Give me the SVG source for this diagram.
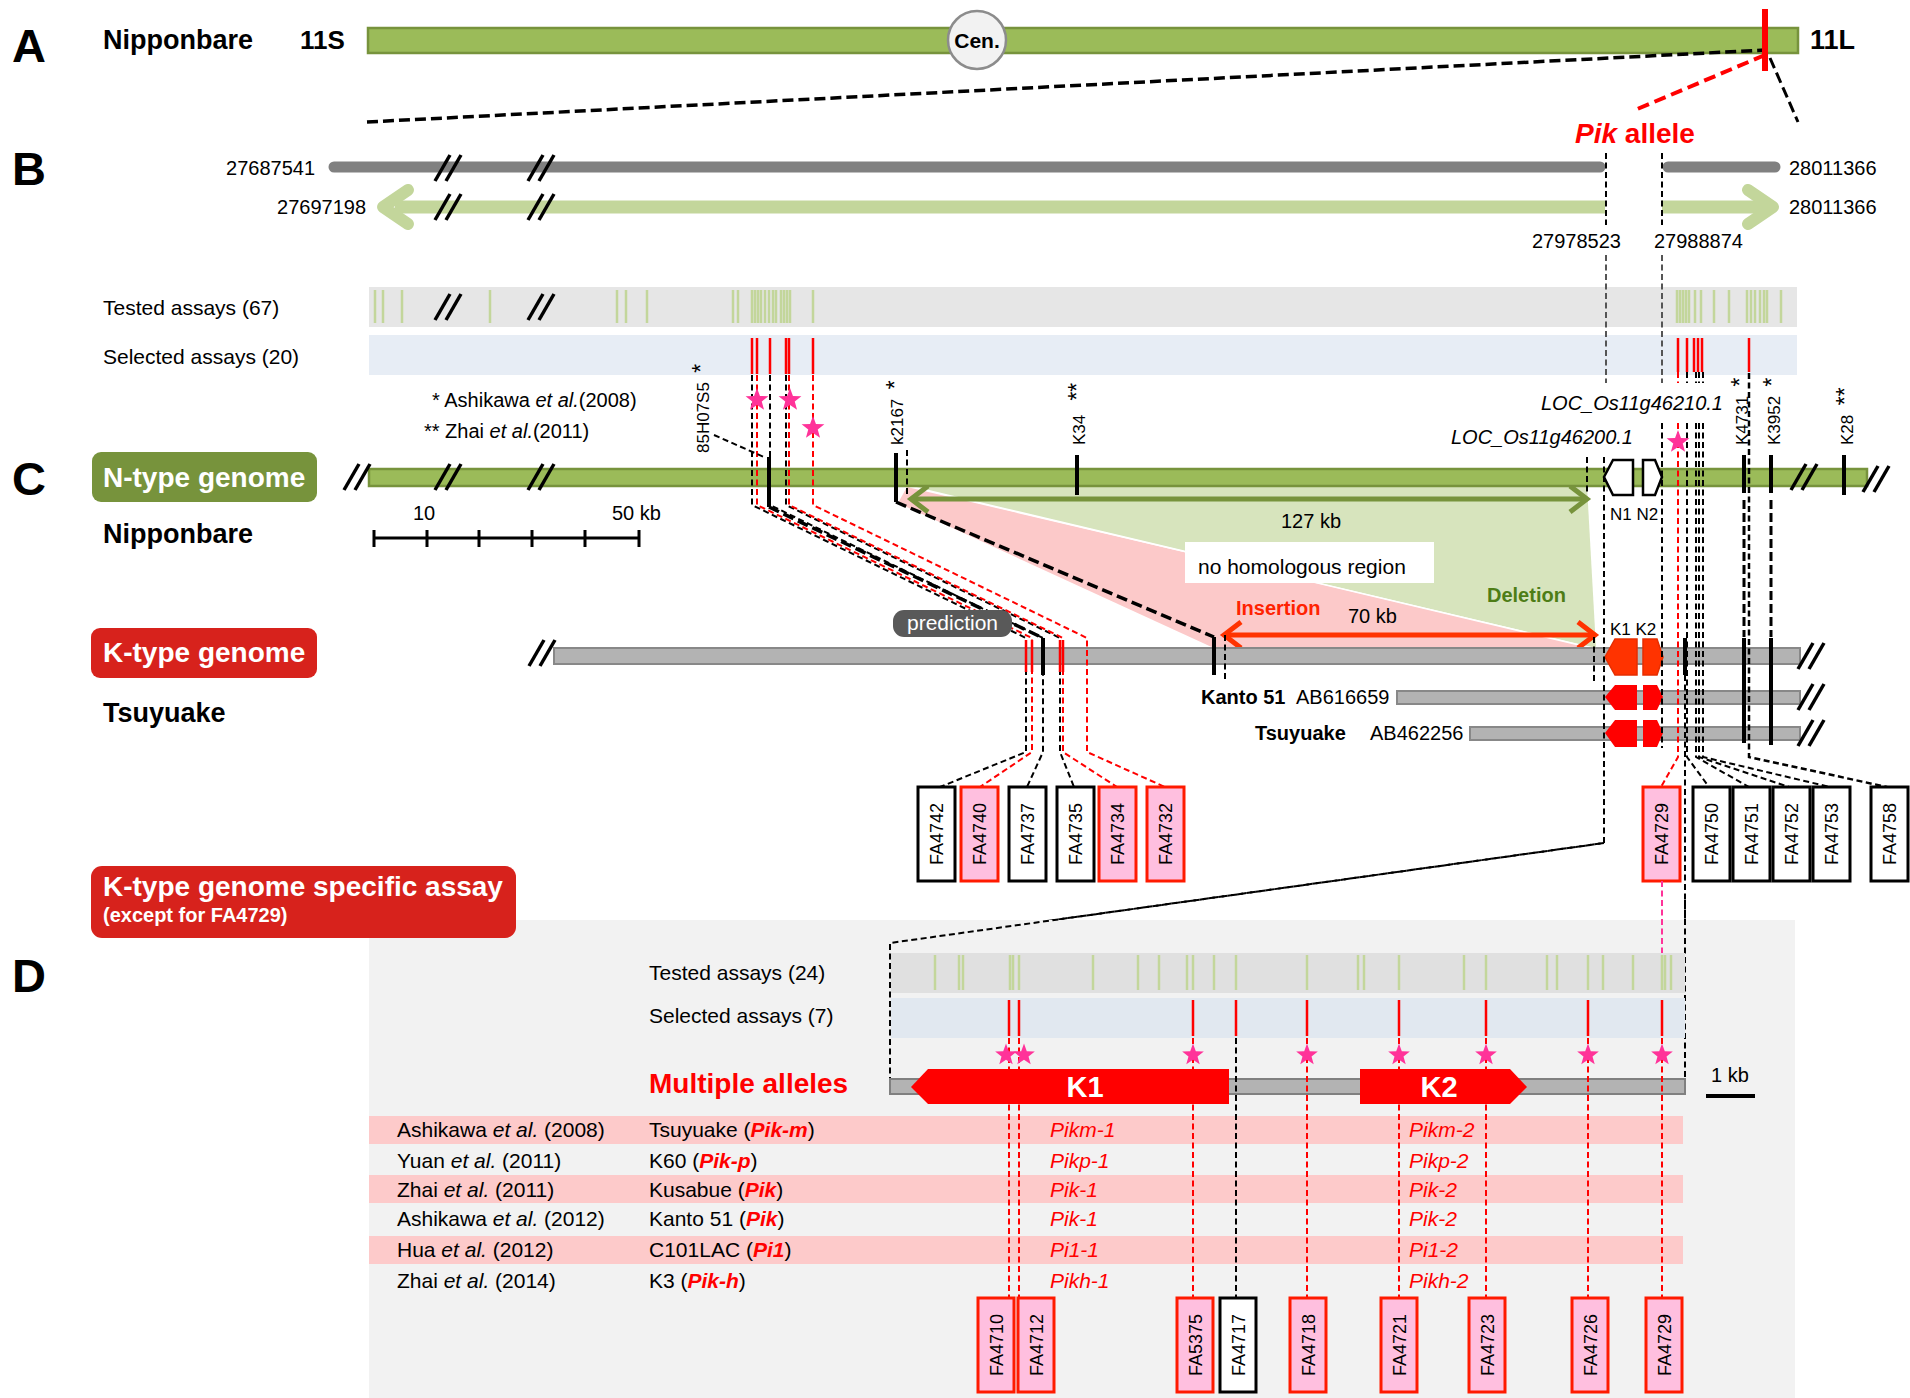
<svg xmlns="http://www.w3.org/2000/svg" width="1910" height="1398" viewBox="0 0 1910 1398">
<defs>
<style>
text{font-family:"Liberation Sans",Arial,Helvetica,sans-serif;fill:#000}
.b{font-weight:bold}
.i{font-style:italic}
.f21{font-size:21px}
.f20{font-size:20px}
.f17{font-size:17px}
.ast{font-size:23px}
.big{font-size:47px;font-weight:bold}
.wt{fill:#fff}
.rt{fill:#ff0000}
.dk{stroke:#000;stroke-width:2;stroke-dasharray:6 3.5;fill:none}
.dg{stroke:#555;stroke-width:2;stroke-dasharray:6 3.5;fill:none}
.dkb{stroke:#000;stroke-width:3.5;stroke-dasharray:11 5;fill:none}
.dr{stroke:#ff0000;stroke-width:2;stroke-dasharray:6 3.5;fill:none}
.sr{stroke:#ff0000;stroke-width:2.5}
.sk{stroke:#000;stroke-width:4}
.tk{stroke:#c3d69b;stroke-width:2.5;fill:none}
.brk{stroke:#000;stroke-width:3.5}
.wbox{fill:#fff;stroke:#000;stroke-width:3}
.pbox{fill:#ffbfdf;stroke:#ff1a00;stroke-width:3}
.bt{font-size:18px}
.kbar{fill:#b3b3b3;stroke:#888;stroke-width:2}
.gbar{fill:#9bbb59;stroke:#77933c;stroke-width:2.5}
.star{fill:#ff3399}
</style>
<g id="brk"><line class="brk" x1="-13" y1="13" x2="2" y2="-13"/><line class="brk" x1="-2" y1="13" x2="13" y2="-13"/></g>
<polygon id="star" points="0,-12 2.94,-4.05 11.41,-3.71 4.76,1.55 7.05,9.71 0,5 -7.05,9.71 -4.76,1.55 -11.41,-3.71 -2.94,-4.05"/>
</defs>
<rect width="1910" height="1398" fill="#fff"/>

<!-- Panel A -->
<g id="panelA">
<text class="big" x="12" y="62">A</text>
<text class="b" font-size="27" x="103" y="49">Nipponbare</text>
<text class="b" font-size="26" x="300" y="49">11S</text>
<rect class="gbar" x="368" y="28" width="1430" height="25"/>
<g id="cen"><circle cx="977" cy="40" r="29" fill="#f2f2f2" stroke="#8c8c8c" stroke-width="2.5"/>
<text class="b" font-size="21" x="977" y="48" text-anchor="middle">Cen.</text></g>
<text class="b" font-size="27" x="1810" y="49">11L</text>
</g>

<!-- Panel B -->
<g id="panelB">
<text class="big" x="12" y="185">B</text>
<text class="f20" x="315" y="175" text-anchor="end">27687541</text>
<line x1="334" y1="167" x2="1600" y2="167" stroke="#808080" stroke-width="11" stroke-linecap="round"/>
<line x1="1668" y1="167" x2="1775" y2="167" stroke="#808080" stroke-width="11" stroke-linecap="round"/>
<text class="f20" x="1789" y="175">28011366</text>
<line x1="395" y1="207" x2="1605" y2="207" stroke="#c3d69b" stroke-width="13"/>
<polyline points="408,190 383,207 408,224" fill="none" stroke="#c3d69b" stroke-width="12" stroke-linecap="round" stroke-linejoin="round"/>
<line x1="1662" y1="207" x2="1765" y2="207" stroke="#c3d69b" stroke-width="13"/>
<polyline points="1748,190 1773,207 1748,224" fill="none" stroke="#c3d69b" stroke-width="12" stroke-linecap="round" stroke-linejoin="round"/>
<text class="f20" x="366" y="214" text-anchor="end">27697198</text>
<text class="f20" x="1789" y="214">28011366</text>
<text class="f20" x="1532" y="248">27978523</text>
<text class="f20" x="1654" y="248">27988874</text>
<use href="#brk" x="448" y="168"/><use href="#brk" x="541" y="168"/>
<use href="#brk" x="448" y="207"/><use href="#brk" x="541" y="207"/>
</g>

<!-- Assay panels C -->
<g id="assaysC">
<rect x="369" y="287" width="1428" height="40" fill="#e6e6e6"/>
<rect x="369" y="335" width="1428" height="40" fill="#e7edf5"/>
<text class="f21" x="103" y="315">Tested assays (67)</text>
<text class="f21" x="103" y="364">Selected assays (20)</text>
<path class="tk" d="M375 290V323M383 290V323M402 290V323M490 290V323M617 290V323M626 290V323M647 290V323M733 290V323M738 290V323M752 290V323M755 290V323M758 290V323M761 290V323M765 290V323M769 290V323M773 290V323M776 290V323M781 290V323M784 290V323M787 290V323M790 290V323M813 290V323M1677 290V323M1680 290V323M1683 290V323M1686 290V323M1689 290V323M1695 290V323M1701 290V323M1714 290V323M1729 290V323M1747 290V323M1751 290V323M1755 290V323M1760 290V323M1764 290V323M1767 290V323M1781 290V323"/>
<use href="#brk" x="448" y="307"/><use href="#brk" x="541" y="307"/>
<path class="sr" d="M752 338V374M757 338V374M770 338V374M786 338V374M789 338V374M813 338V374M1678 338V372M1687 338V372M1694 338V372M1698 338V372M1702 338V372M1749 338V372"/>
</g>

<!-- Panel C labels -->
<g id="panelC-labels">
<text class="big" x="12" y="495">C</text>
<g id="ntype-label"><rect x="92" y="452" width="225" height="50" rx="9" fill="#77933c"/>
<text class="b wt" font-size="28" x="103" y="487">N-type genome</text></g>
<text class="b" font-size="27" x="103" y="543">Nipponbare</text>
<g id="ktype-label"><rect x="91" y="628" width="226" height="50" rx="9" fill="#d7221c"/>
<text class="b wt" font-size="28" x="103" y="662">K-type genome</text></g>
<text class="b" font-size="27" x="103" y="722">Tsuyuake</text>
<g id="scalebar"><path d="M374 538H639M374 530V547M427 530V547M479 530V547M532 530V547M585 530V547M639 530V547" stroke="#000" stroke-width="3" fill="none"/>
<text class="f20" x="413" y="520">10</text><text class="f20" x="612" y="520">50 kb</text></g>
<text class="f20" x="432" y="407">* Ashikawa <tspan class="i">et al.</tspan>(2008)</text>
<text class="f20" x="424" y="438">** Zhai <tspan class="i">et al.</tspan>(2011)</text>
<text class="f17" transform="rotate(-90 709 453)" x="709" y="453">85H07S5&#160; <tspan class="ast">*</tspan></text>
<text class="f17" transform="rotate(-90 903 445)" x="903" y="445">k2167&#160; <tspan class="ast">*</tspan></text>
<text class="f17" transform="rotate(-90 1085 445)" x="1085" y="445">K34&#160;&#160; <tspan class="ast">**</tspan></text>
<text class="f17" transform="rotate(-90 1748 445)" x="1748" y="445">K4731&#160; <tspan class="ast">*</tspan></text>
<text class="f17" transform="rotate(-90 1780 445)" x="1780" y="445">K3952&#160; <tspan class="ast">*</tspan></text>
<text class="f17" transform="rotate(-90 1853 445)" x="1853" y="445">K28&#160; <tspan class="ast">**</tspan></text>
<text class="f20 i" x="1541" y="410">LOC_Os11g46210.1</text>
<text class="f20 i" x="1451" y="444">LOC_Os11g46200.1</text>
</g>

<!-- Regions -->
<g id="regions">
<polygon points="909,486 1587,486 1596,648" fill="#d7e4bd"/>
<polygon points="907,487 1596,649 1216,649 898,503" fill="#fcc9c9"/>
<line x1="909" y1="486" x2="1596" y2="649" stroke="#fff" stroke-width="1.5"/>
<g id="nohom"><rect x="1185" y="542" width="249" height="41" fill="#fff"/>
<text class="f21" x="1198" y="574">no homologous region</text></g>
<text class="b f20" x="1487" y="602" style="fill:#4e7d16">Deletion</text>
<text class="b f20" x="1236" y="615" style="fill:#ff2200">Insertion</text>
<text class="f20" x="1348" y="623">70 kb</text>
<text class="f20" x="1281" y="528">127 kb</text>
<g id="arrow127" stroke="#77933c" stroke-width="5" fill="none">
<line x1="912" y1="499" x2="1584" y2="499"/>
<polyline points="928,486 911,499 928,512"/><polyline points="1570,486 1587,499 1570,512"/></g>
<g id="arrow70" stroke="#ff3300" stroke-width="5" fill="none">
<line x1="1225" y1="635" x2="1593" y2="635"/>
<polyline points="1241,622 1224,635 1241,648"/><polyline points="1578,622 1595,635 1578,648"/></g>
</g>

<!-- Genome bars -->
<g id="ntype-bar">
<rect class="gbar" x="369" y="469" width="1498" height="17"/>
<use href="#brk" x="357" y="477"/><use href="#brk" x="448" y="477"/><use href="#brk" x="541" y="477"/>
<use href="#brk" x="1804" y="477"/><use href="#brk" x="1876" y="479"/>
<polygon points="1604,477 1613,460 1633,460 1633,495 1613,495" fill="#fff" stroke="#000" stroke-width="2.5"/>
<polygon points="1643,460 1655,460 1662,477 1655,495 1643,495" fill="#fff" stroke="#000" stroke-width="2.5"/>
<text class="f17" x="1610" y="520">N1 N2</text>
</g>
<g id="ktype-bar">
<rect class="kbar" x="554" y="648" width="1246" height="16"/>
<use href="#brk" x="542" y="653"/><use href="#brk" x="1811" y="656"/>
<polygon points="1605,657 1615,639 1637,639 1637,675 1615,675" fill="#ff3300" stroke="#e62e00" stroke-width="1.5"/>
<polygon points="1643,639 1657,639 1663,657 1657,675 1643,675" fill="#ff3300" stroke="#e62e00" stroke-width="1.5"/>
<text class="f17" x="1610" y="635">K1 K2</text>
</g>
<g id="kanto51-bar">
<rect class="kbar" x="1397" y="691" width="403" height="13"/>
<use href="#brk" x="1811" y="697"/>
<polygon points="1605,697 1615,685 1637,685 1637,710 1615,710" fill="#ff0000"/>
<polygon points="1643,685 1657,685 1663,697 1657,710 1643,710" fill="#ff0000"/>
<text class="b f20" x="1201" y="704">Kanto 51</text><text class="f20" x="1296" y="704">AB616659</text>
</g>
<g id="tsuyuake-bar">
<rect class="kbar" x="1470" y="727" width="330" height="13"/>
<use href="#brk" x="1811" y="733"/>
<polygon points="1605,733 1615,720 1637,720 1637,747 1615,747" fill="#ff0000"/>
<polygon points="1643,720 1657,720 1663,733 1657,747 1643,747" fill="#ff0000"/>
<text class="b f20" x="1255" y="740">Tsuyuake</text><text class="f20" x="1370" y="740">AB462256</text>
</g>

<!-- Connectors -->
<g id="connectors">
<line class="dkb" x1="367" y1="122" x2="1765" y2="50"/>
<line class="dkb" x1="1770" y1="58" x2="1798" y2="122" style="stroke-width:3"/>
<line x1="1765" y1="55" x2="1635" y2="110" stroke="#ff0000" stroke-width="4" stroke-dasharray="12 6"/>
<line x1="1765" y1="9" x2="1765" y2="71" stroke="#ff0000" stroke-width="6"/>
<path class="dk" d="M1606 153V225M1662 153V225"/>
<path class="dg" d="M1606 255V383M1662 255V383"/>
<polyline class="dk" points="1604,457 1604,843 890,943 890,1087"/>
<path class="dk" d="M1662 423V748M1587 457V493M1594 637V682M907 450V495M1225 635V680"/>
<line class="sk" x1="1685" y1="638" x2="1685" y2="675"/>
<line class="dk" x1="1685" y1="675" x2="1685" y2="1093"/>
<polyline class="dk" points="752,375 752,505 1026,638 1026,752 940,787"/>
<polyline class="dr" points="757,375 757,505 1032,638 1032,752 980,787"/>
<polyline class="dk" points="770,375 770,505 1043,638 1043,752 1027,787"/>
<polyline class="dk" points="786,375 786,505 1060,638 1060,752 1074,787"/>
<polyline class="dr" points="789,375 789,505 1063,638 1063,752 1117,787"/>
<polyline class="dr" points="813,375 813,505 1087,638 1087,752 1165,787"/>
<line class="dk" x1="714" y1="435" x2="764" y2="457"/>
<line class="sk" x1="769" y1="457" x2="769" y2="507"/>
<line class="dkb" x1="769" y1="507" x2="1043" y2="638"/>
<line class="sk" x1="1043" y1="638" x2="1043" y2="675"/>
<path class="sr" d="M1026 640V672M1032 640V672M1060 640V672M1063 640V672"/>
<line class="sk" x1="896" y1="453" x2="896" y2="502"/>
<line class="dkb" x1="896" y1="502" x2="1214" y2="637"/>
<line class="sk" x1="1214" y1="637" x2="1214" y2="675"/>
<path class="sk" d="M1077 455V495M1844 455V495M1744 455V493M1771 455V493M1744 638V743M1771 638V745"/>
<path class="dkb" d="M1744 500V637M1771 500V637" style="stroke-width:3;stroke-dasharray:9 4"/>
<path class="dr" d="M1678 372V383"/>
<polyline class="dr" points="1678,423 1678,757 1661,787"/>
<path class="dk" d="M1687 372V383M1696 372V383M1699 372V383M1703 372V383"/>
<polyline class="dk" points="1687,423 1687,757 1709,787"/>
<polyline class="dk" points="1696,423 1696,757 1749,787"/>
<polyline class="dk" points="1699,423 1699,757 1789,787"/>
<polyline class="dk" points="1703,423 1703,757 1830,787"/>
<polyline class="dk" points="1749,373 1749,757 1887,787" style="stroke-width:2.5"/>
<use href="#star" class="star" x="757" y="400"/>
<use href="#star" class="star" x="790" y="400"/>
<use href="#star" class="star" x="813" y="428"/>
<use href="#star" class="star" x="1678" y="442"/>
</g>
<g id="prediction"><rect x="893" y="610" width="119" height="27" rx="11" fill="#595959"/>
<text class="f21 wt" x="952.5" y="630" text-anchor="middle">prediction</text></g>

<!-- C boxes -->
<g id="fa4742"><rect class="wbox" x="918" y="787" width="37" height="94"/><text class="bt" transform="rotate(-90 936.5 834)" x="936.5" y="840.5" text-anchor="middle">FA4742</text></g>
<g id="fa4740"><rect class="pbox" x="961" y="787" width="37" height="94"/><text class="bt" transform="rotate(-90 979.5 834)" x="979.5" y="840.5" text-anchor="middle">FA4740</text></g>
<g id="fa4737"><rect class="wbox" x="1009" y="787" width="37" height="94"/><text class="bt" transform="rotate(-90 1027.5 834)" x="1027.5" y="840.5" text-anchor="middle">FA4737</text></g>
<g id="fa4735"><rect class="wbox" x="1057" y="787" width="37" height="94"/><text class="bt" transform="rotate(-90 1075.5 834)" x="1075.5" y="840.5" text-anchor="middle">FA4735</text></g>
<g id="fa4734"><rect class="pbox" x="1099" y="787" width="37" height="94"/><text class="bt" transform="rotate(-90 1117.5 834)" x="1117.5" y="840.5" text-anchor="middle">FA4734</text></g>
<g id="fa4732"><rect class="pbox" x="1147" y="787" width="37" height="94"/><text class="bt" transform="rotate(-90 1165.5 834)" x="1165.5" y="840.5" text-anchor="middle">FA4732</text></g>
<g id="fa4729c"><rect class="pbox" x="1643" y="787" width="37" height="94"/><text class="bt" transform="rotate(-90 1661.5 834)" x="1661.5" y="840.5" text-anchor="middle">FA4729</text></g>
<g id="fa4750"><rect class="wbox" x="1693" y="787" width="37" height="94"/><text class="bt" transform="rotate(-90 1711.5 834)" x="1711.5" y="840.5" text-anchor="middle">FA4750</text></g>
<g id="fa4751"><rect class="wbox" x="1733" y="787" width="37" height="94"/><text class="bt" transform="rotate(-90 1751.5 834)" x="1751.5" y="840.5" text-anchor="middle">FA4751</text></g>
<g id="fa4752"><rect class="wbox" x="1773" y="787" width="37" height="94"/><text class="bt" transform="rotate(-90 1791.5 834)" x="1791.5" y="840.5" text-anchor="middle">FA4752</text></g>
<g id="fa4753"><rect class="wbox" x="1813" y="787" width="37" height="94"/><text class="bt" transform="rotate(-90 1831.5 834)" x="1831.5" y="840.5" text-anchor="middle">FA4753</text></g>
<g id="fa4758"><rect class="wbox" x="1871" y="787" width="37" height="94"/><text class="bt" transform="rotate(-90 1889.5 834)" x="1889.5" y="840.5" text-anchor="middle">FA4758</text></g>

<!-- Panel D -->
<rect x="369" y="920" width="1426" height="478" fill="#f2f2f2"/>
<g id="zoom-lines">
<polyline class="dk" points="1604,843 890,943 890,1087"/>
<line class="dk" x1="1685" y1="900" x2="1685" y2="1093"/>
<line x1="1662" y1="881" x2="1662" y2="955" stroke="#ff3399" stroke-width="2" stroke-dasharray="6 3.5"/>
</g>
<g id="kspecific-label"><rect x="91" y="866" width="425" height="72" rx="11" fill="#d7221c"/>
<text class="b wt" font-size="28" x="103" y="896">K-type genome specific assay</text>
<text class="b wt" font-size="20" x="103" y="922">(except for FA4729)</text></g>
<text class="big" x="12" y="992">D</text>
<g id="assaysD">
<rect x="891" y="953" width="794" height="40" fill="#e0e0e0"/>
<rect x="891" y="998" width="794" height="40" fill="#e1e8f0"/>
<text class="f21" x="649" y="980">Tested assays (24)</text>
<text class="f21" x="649" y="1023">Selected assays (7)</text>
<path class="tk" d="M935 955V990M959 955V990M963 955V990M1010 955V990M1013 955V990M1019 955V990M1093 955V990M1138 955V990M1159 955V990M1187 955V990M1193 955V990M1214 955V990M1236 955V990M1307 955V990M1358 955V990M1364 955V990M1399 955V990M1464 955V990M1486 955V990M1547 955V990M1557 955V990M1588 955V990M1603 955V990M1633 955V990M1662 955V990M1665 955V990M1671 955V990"/>
</g>
<g id="table">
<rect x="369" y="1116" width="1314" height="28" fill="#fdcaca"/>
<rect x="369" y="1175" width="1314" height="28" fill="#fdcaca"/>
<rect x="369" y="1236" width="1314" height="28" fill="#fdcaca"/>
<text class="f21" x="397" y="1137">Ashikawa <tspan class="i">et al.</tspan> (2008)</text>
<text class="f21" x="397" y="1168">Yuan <tspan class="i">et al.</tspan> (2011)</text>
<text class="f21" x="397" y="1197">Zhai <tspan class="i">et al.</tspan> (2011)</text>
<text class="f21" x="397" y="1226">Ashikawa <tspan class="i">et al.</tspan> (2012)</text>
<text class="f21" x="397" y="1257">Hua <tspan class="i">et al.</tspan> (2012)</text>
<text class="f21" x="397" y="1288">Zhai <tspan class="i">et al.</tspan> (2014)</text>
<text class="f21" x="649" y="1137">Tsuyuake (<tspan class="b i rt">Pik-m</tspan>)</text>
<text class="f21" x="649" y="1168">K60 (<tspan class="b i rt">Pik-p</tspan>)</text>
<text class="f21" x="649" y="1197">Kusabue (<tspan class="b i rt">Pik</tspan>)</text>
<text class="f21" x="649" y="1226">Kanto 51 (<tspan class="b i rt">Pik</tspan>)</text>
<text class="f21" x="649" y="1257">C101LAC (<tspan class="b i rt">Pi1</tspan>)</text>
<text class="f21" x="649" y="1288">K3 (<tspan class="b i rt">Pik-h</tspan>)</text>
<text class="f21 i rt" x="1050" y="1137">Pikm-1</text><text class="f21 i rt" x="1409" y="1137">Pikm-2</text>
<text class="f21 i rt" x="1050" y="1168">Pikp-1</text><text class="f21 i rt" x="1409" y="1168">Pikp-2</text>
<text class="f21 i rt" x="1050" y="1197">Pik-1</text><text class="f21 i rt" x="1409" y="1197">Pik-2</text>
<text class="f21 i rt" x="1050" y="1226">Pik-1</text><text class="f21 i rt" x="1409" y="1226">Pik-2</text>
<text class="f21 i rt" x="1050" y="1257">Pi1-1</text><text class="f21 i rt" x="1409" y="1257">Pi1-2</text>
<text class="f21 i rt" x="1050" y="1288">Pikh-1</text><text class="f21 i rt" x="1409" y="1288">Pikh-2</text>
</g>
<g id="locusD">
<rect x="890" y="1079" width="795" height="15" fill="#b3b3b3" stroke="#808080" stroke-width="2"/>
<g id="K1"><polygon points="911,1087 928,1069 1229,1069 1229,1104 928,1104" fill="#ff0000"/>
<text class="b wt" font-size="29" x="1085" y="1097" text-anchor="middle">K1</text></g>
<g id="K2"><polygon points="1360,1069 1510,1069 1527,1087 1510,1104 1360,1104" fill="#ff0000"/>
<text class="b wt" font-size="29" x="1439" y="1097" text-anchor="middle">K2</text></g>
<text class="b rt" font-size="28" x="649" y="1093">Multiple alleles</text>
<text class="f20" x="1711" y="1082">1 kb</text>
<line x1="1706" y1="1096" x2="1755" y2="1096" stroke="#000" stroke-width="4"/>
</g>
<g id="connectorsD">
<path class="sr" d="M1009 1000V1036M1019 1000V1036M1193 1000V1036M1236 1000V1036M1307 1000V1036M1399 1000V1036M1486 1000V1036M1588 1000V1036M1662 1000V1036"/>
<path class="dr" d="M1009 1038V1298M1019 1038V1298M1193 1038V1298M1307 1038V1298M1399 1038V1298M1486 1038V1298M1588 1038V1298M1662 1038V1298"/>
<path class="dk" d="M1236 1038V1298"/>
<use href="#star" class="star" transform="translate(1006 1055) scale(0.95)"/>
<use href="#star" class="star" transform="translate(1024 1055) scale(0.95)"/>
<use href="#star" class="star" transform="translate(1193 1055) scale(0.95)"/>
<use href="#star" class="star" transform="translate(1307 1055) scale(0.95)"/>
<use href="#star" class="star" transform="translate(1399 1055) scale(0.95)"/>
<use href="#star" class="star" transform="translate(1486 1055) scale(0.95)"/>
<use href="#star" class="star" transform="translate(1588 1055) scale(0.95)"/>
<use href="#star" class="star" transform="translate(1662 1055) scale(0.95)"/>
</g>
<g id="fa4710"><rect class="pbox" x="978" y="1298" width="36" height="94"/><text class="bt" transform="rotate(-90 996 1345)" x="996" y="1351.5" text-anchor="middle">FA4710</text></g>
<g id="fa4712"><rect class="pbox" x="1018" y="1298" width="36" height="94"/><text class="bt" transform="rotate(-90 1036 1345)" x="1036" y="1351.5" text-anchor="middle">FA4712</text></g>
<g id="fa5375"><rect class="pbox" x="1177" y="1298" width="36" height="94"/><text class="bt" transform="rotate(-90 1195 1345)" x="1195" y="1351.5" text-anchor="middle">FA5375</text></g>
<g id="fa4717"><rect class="wbox" x="1220" y="1298" width="36" height="94"/><text class="bt" transform="rotate(-90 1238 1345)" x="1238" y="1351.5" text-anchor="middle">FA4717</text></g>
<g id="fa4718"><rect class="pbox" x="1290" y="1298" width="36" height="94"/><text class="bt" transform="rotate(-90 1308 1345)" x="1308" y="1351.5" text-anchor="middle">FA4718</text></g>
<g id="fa4721"><rect class="pbox" x="1381" y="1298" width="36" height="94"/><text class="bt" transform="rotate(-90 1399 1345)" x="1399" y="1351.5" text-anchor="middle">FA4721</text></g>
<g id="fa4723"><rect class="pbox" x="1469" y="1298" width="36" height="94"/><text class="bt" transform="rotate(-90 1487 1345)" x="1487" y="1351.5" text-anchor="middle">FA4723</text></g>
<g id="fa4726"><rect class="pbox" x="1572" y="1298" width="36" height="94"/><text class="bt" transform="rotate(-90 1590 1345)" x="1590" y="1351.5" text-anchor="middle">FA4726</text></g>
<g id="fa4729d"><rect class="pbox" x="1646" y="1298" width="36" height="94"/><text class="bt" transform="rotate(-90 1664 1345)" x="1664" y="1351.5" text-anchor="middle">FA4729</text></g>
<text class="b rt" font-size="28" x="1575" y="143"><tspan class="i">Pik</tspan> allele</text>
</svg>
